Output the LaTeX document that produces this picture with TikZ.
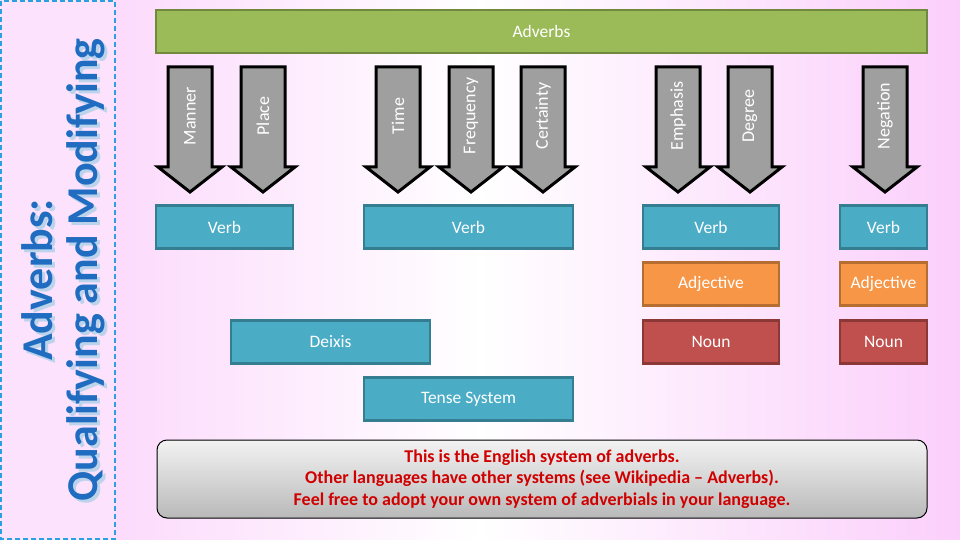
\documentclass[tikz,border=0pt]{standalone}
\usepackage{fontspec}
\setmainfont{Carlito}
\usetikzlibrary{shadows}
\definecolor{bgpink}{HTML}{FBCFFB}
\definecolor{barfill}{HTML}{9BBB59}
\definecolor{bardraw}{HTML}{71893F}
\definecolor{bluefill}{HTML}{4BACC6}
\definecolor{bluedraw}{HTML}{357D91}
\definecolor{orfill}{HTML}{F79646}
\definecolor{ordraw}{HTML}{B66D31}
\definecolor{redfill}{HTML}{C0504D}
\definecolor{reddraw}{HTML}{8C3836}
\definecolor{titleblue}{HTML}{1F6CC0}
\definecolor{dashblue}{HTML}{2AA0E0}
\definecolor{notered}{HTML}{D00000}
\tikzset{
  box/.style={draw, line width=2.5pt, text=white, font=\fontsize{17.5}{20}\selectfont, inner sep=0pt, minimum height=43},
  verb/.style={box, fill=bluefill, draw=bluedraw},
  adj/.style={box, fill=orfill, draw=ordraw},
  noun/.style={box, fill=redfill, draw=reddraw},
  arr/.style={draw=black, line width=3pt, fill=gray!75, line join=miter},
  arrlabel/.style={rotate=90, text=white, font=\fontsize{18}{20}\selectfont},
  title/.style={rotate=90, text=titleblue, font=\fontsize{44}{50}\selectfont\bfseries}
}
\begin{document}
\begin{tikzpicture}[x=1pt, y=-1pt]
  \useasboundingbox (0,0) rectangle (960,540);
  % background
  \shade[left color=bgpink, right color=bgpink, middle color=white] (0,0) rectangle (960,540);
  \fill[bgpink!60] (0,0) rectangle (115,540);
  \draw[dashblue, line width=2pt, dash pattern=on 5pt off 3pt] (1,1) rectangle (115,539);
  \node[title, text=titleblue!30] (t1s) at (40,283) {Adverbs:};
  \node[title] (t1) at (37,280) {Adverbs:};
  \node[title, text=titleblue!30] (t2s) at (89,273) {Qualifying and Modifying};
  \node[title] (t2) at (86,270) {Qualifying and Modifying};
  % top bar
  \node[box, fill=barfill, draw=bardraw, minimum width=771] (adverbs) at (541.5,31.5) {Adverbs};
  % arrows
  \foreach \x/\t/\n in {190/Manner/manner, 263/Place/place, 398/Time/time, 471/Frequency/freq,
      543/Certainty/cert, 678/Emphasis/emph, 750/Degree/degree, 885/Negation/neg}{
    \draw[arr] (\x-22,67) -- (\x+22,67) -- (\x+22,167) -- (\x+32,167) -- (\x,192)
      -- (\x-32,167) -- (\x-22,167) -- cycle;
    \node[arrlabel] (\n) at (\x,116) {\t};
  }
  % targets
  \node[verb, minimum width=137] (verb1) at (224.5,227) {Verb};
  \node[verb, minimum width=209] (verb2) at (468.5,227) {Verb};
  \node[verb, minimum width=136] (verb3) at (711,227) {Verb};
  \node[verb, minimum width=87] (verb4) at (883.5,227) {Verb};
  \node[adj, minimum width=136] (adj1) at (711,284) {Adjective};
  \node[adj, minimum width=87] (adj2) at (883.5,284) {Adjective};
  \node[noun, minimum width=136] (noun1) at (711,342) {Noun};
  \node[noun, minimum width=87] (noun2) at (883.5,342) {Noun};
  \node[verb, minimum width=199] (deixis) at (330.5,342) {Deixis};
  \node[verb, minimum width=209] (tense) at (468.5,399) {Tense System};
  % note
  \node[draw=black, line width=1pt, rounded corners=10pt, top color=gray!10, bottom color=gray!55,
    minimum width=770, minimum height=78, align=center, text=notered,
    font=\fontsize{18}{21.5}\selectfont\bfseries] (note) at (542,479)
    {This is the English system of adverbs.\\
     Other languages have other systems (see Wikipedia -- Adverbs).\\
     Feel free to adopt your own system of adverbials in your language.};
\end{tikzpicture}
\end{document}
